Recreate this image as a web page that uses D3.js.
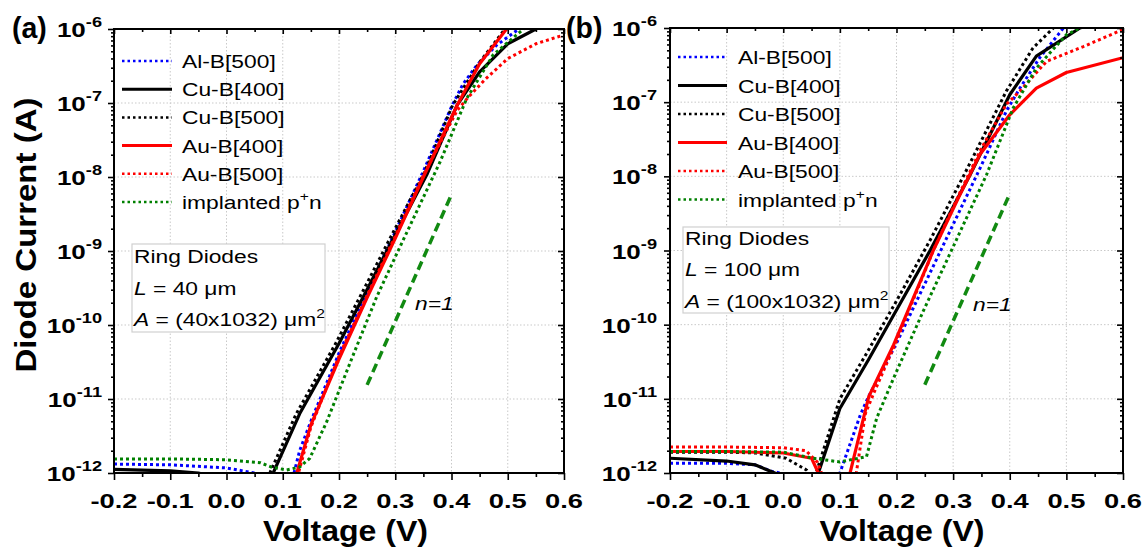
<!DOCTYPE html>
<html><head><meta charset="utf-8">
<script src="https://cdn.jsdelivr.net/npm/d3@7"></script>
<style>html,body{margin:0;padding:0;background:#fff;}svg{display:block;}</style>
</head><body>
<svg id="chart" width="1146" height="551"></svg>
<script>
// ---------- data ----------
const xTicks = [-0.2, -0.1, 0.0, 0.1, 0.2, 0.3, 0.4, 0.5, 0.6];
const xMinorTicks = [-0.15, -0.05, 0.05, 0.15, 0.25, 0.35, 0.45, 0.55];
const yTicks = [1e-12, 1e-11, 1e-10, 1e-9, 1e-8, 1e-7, 1e-6];
const yTickExp = ["-12", "-11", "-10", "-9", "-8", "-7", "-6"];
const seriesNames = ["Al-B[500]", "Cu-B[400]", "Cu-B[500]", "Au-B[400]", "Au-B[500]", "implanted p"];
const seriesColors = ["#0000ff", "#000000", "#000000", "#ff0000", "#ff0000", "#008000"];
const seriesDotted = [true, false, true, false, true, true];

// panel (a): L = 40 um  [voltage V, current A]
const aAlB500 = [[-0.2,1.32e-12],[-0.1,1.29e-12],[0.0,1.17e-12],[0.05,1.0e-12],[0.08,7.9e-13],[0.11,7.9e-13],[0.12,1.0e-12],[0.13,2.0e-12],[0.15,5.0e-12],[0.2,4.17e-11],[0.25,2.82e-10],[0.3,1.82e-9],[0.35,1.2e-8],[0.40,8.91e-8],[0.42,1.78e-7],[0.445,3.24e-7],[0.48,6.03e-7],[0.52,1.0e-6],[0.54,1.26e-6]];
const aCuB400 = [[-0.2,1.12e-12],[-0.1,1.07e-12],[-0.05,1.0e-12],[0.0,7.9e-13],[0.07,7.9e-13],[0.083,1.0e-12],[0.13,6.31e-12],[0.2,5.62e-11],[0.25,3.02e-10],[0.3,1.66e-9],[0.356,1.07e-8],[0.41,9.33e-8],[0.45,2.63e-7],[0.5,6.31e-7],[0.55,1.0e-6],[0.56,1.1e-6]];
const aCuB500 = [[0.06,5.0e-13],[0.077,1.0e-12],[0.124,6.31e-12],[0.194,5.62e-11],[0.244,3.02e-10],[0.294,1.66e-9],[0.35,1.07e-8],[0.402,9.33e-8],[0.45,3.55e-7],[0.5,1.12e-6]];
const aAuB400 = [[0.12,7.9e-13],[0.125,1.0e-12],[0.15,4.47e-12],[0.2,3.47e-11],[0.25,2.34e-10],[0.3,1.48e-9],[0.35,1.0e-8],[0.41,9.33e-8],[0.45,3.39e-7],[0.5,1.05e-6]];
const aAuB500 = [[0.115,6.3e-13],[0.128,1.0e-12],[0.15,4.17e-12],[0.2,3.8e-11],[0.25,2.51e-10],[0.3,1.58e-9],[0.35,1.05e-8],[0.41,7.94e-8],[0.43,1.2e-7],[0.46,2.09e-7],[0.5,3.98e-7],[0.55,6.31e-7],[0.6,8.32e-7]];
const aImplanted = [[-0.2,1.55e-12],[-0.1,1.55e-12],[0.0,1.51e-12],[0.06,1.38e-12],[0.08,1.2e-12],[0.107,1.1e-12],[0.13,1.2e-12],[0.148,1.58e-12],[0.178,4.9e-12],[0.225,3.89e-11],[0.267,2.4e-10],[0.308,1.12e-9],[0.38,1.62e-8],[0.427,1.15e-7],[0.474,4.47e-7],[0.528,1.0e-6],[0.54,1.1e-6]];

// panel (b): L = 100 um
const bAlB500 = [[-0.2,1.35e-12],[-0.1,1.35e-12],[-0.05,1.29e-12],[-0.02,1.05e-12],[0.03,8.9e-13],[0.09,7.9e-13],[0.1,1.0e-12],[0.136,6.03e-12],[0.15,1.05e-11],[0.2,5.62e-11],[0.25,3.55e-10],[0.3,2.24e-9],[0.35,1.41e-8],[0.394,7.59e-8],[0.418,1.55e-7],[0.453,3.98e-7],[0.5,1.12e-6]];
const bCuB400 = [[-0.2,1.58e-12],[-0.1,1.45e-12],[-0.05,1.29e-12],[-0.015,1.0e-12],[0.0,7.9e-13],[0.05,7.9e-13],[0.062,1.0e-12],[0.1,7.41e-12],[0.15,3.31e-11],[0.2,1.58e-10],[0.26,1.02e-9],[0.33,1.05e-8],[0.4,1.26e-7],[0.447,4.17e-7],[0.524,1.0e-6],[0.54,1.1e-6]];
const bCuB500 = [[-0.2,1.91e-12],[-0.1,1.91e-12],[-0.048,1.86e-12],[0.005,1.58e-12],[0.041,1.1e-12],[0.05,8.9e-13],[0.058,1.0e-12],[0.1,1.0e-11],[0.15,4.47e-11],[0.2,2.09e-10],[0.26,1.41e-9],[0.318,1.0e-8],[0.394,1.41e-7],[0.441,5.37e-7],[0.477,1.0e-6],[0.49,1.2e-6]];
const bAuB400 = [[-0.2,1.95e-12],[-0.1,1.95e-12],[0.0,1.86e-12],[0.05,1.58e-12],[0.062,1.0e-12],[0.07,6.3e-13],[0.11,6.3e-13],[0.118,1.0e-12],[0.136,3.63e-12],[0.151,1.07e-11],[0.195,5.37e-11],[0.265,1.0e-9],[0.31,5.25e-9],[0.347,1.95e-8],[0.4,6.76e-8],[0.447,1.55e-7],[0.5,2.51e-7],[0.6,3.98e-7]];
const bAuB500 = [[-0.2,2.24e-12],[-0.1,2.24e-12],[0.0,2.19e-12],[0.04,2.0e-12],[0.06,1.41e-12],[0.075,7.1e-13],[0.12,6.3e-13],[0.129,1.0e-12],[0.145,6.31e-12],[0.16,1.2e-11],[0.2,6.03e-11],[0.265,1.0e-9],[0.31,5.62e-9],[0.35,2.4e-8],[0.394,9.33e-8],[0.418,1.41e-7],[0.465,3.55e-7],[0.53,5.62e-7],[0.6,9.55e-7]];
const bImplanted = [[-0.2,1.95e-12],[-0.1,1.95e-12],[0.0,1.91e-12],[0.053,1.58e-12],[0.1,1.41e-12],[0.147,1.66e-12],[0.165,5.5e-12],[0.195,1.91e-11],[0.247,1.51e-10],[0.3,1.12e-9],[0.359,1.05e-8],[0.406,8.32e-8],[0.447,2.88e-7],[0.5,8.13e-7],[0.53,1.05e-6]];

// n = 1 reference line
const idealV = [0.25, 0.40];
const idealI = [1.55e-11, 5.8e-9];

// ---------- drawing ----------
const FONT = '"Liberation Sans", Arial, Helvetica, sans-serif';
const svg = d3.select('#chart').attr('font-family', FONT);

function txt(parent, x, y, size, opts = {}) {
  return parent.append('text')
    .attr('transform', `translate(${x},${y}) scale(${opts.sx || 1},1)`)
    .attr('text-anchor', opts.anchor || 'start')
    .attr('font-size', size)
    .attr('font-weight', opts.weight || 'normal')
    .attr('font-style', opts.style || 'normal')
    .attr('fill', '#000');
}

const panels = [
  { key: 'a', x0: 114, x1: 564, y0: 29, y1: 473, tagX: 12, yLabRight: 102,
    legX: [122, 172, 182], legY0: 61, legDy: 28.2,
    box: { x: 132, y: 244, w: 193, h: 88 }, boxTx: 134, boxTy: [263, 295, 326], Lval: '40', Aval: '(40x1032)',
    n1: [415, 310], titleX: 345.5,
    data: [aAlB500, aCuB400, aCuB500, aAuB400, aAuB500, aImplanted] },
  { key: 'b', x0: 670, x1: 1123, y0: 28, y1: 473, tagX: 566, yLabRight: 657,
    legX: [678, 727, 738], legY0: 57, legDy: 28.5,
    box: { x: 683, y: 227, w: 206, h: 86 }, boxTx: 685, boxTy: [245, 276, 308], Lval: '100', Aval: '(100x1032)',
    n1: [973, 311], titleX: 902,
    data: [bAlB500, bCuB400, bCuB500, bAuB400, bAuB500, bImplanted] }
];

panels.forEach(cfg => {
  const x = d3.scaleLinear().domain([-0.2, 0.6]).range([cfg.x0, cfg.x1]);
  const y = d3.scaleLog().domain([1e-12, 1e-6]).range([cfg.y1, cfg.y0]);
  const g = svg.append('g');

  // grid
  g.append('g').selectAll('line').data(xTicks.slice(1, -1)).join('line')
    .attr('x1', d => x(d)).attr('x2', d => x(d)).attr('y1', cfg.y0).attr('y2', cfg.y1)
    .attr('stroke', '#c9c9c9').attr('stroke-width', 1).attr('stroke-dasharray', '1.5,2');
  g.append('g').selectAll('line').data(yTicks.slice(1, -1)).join('line')
    .attr('y1', d => y(d)).attr('y2', d => y(d)).attr('x1', cfg.x0).attr('x2', cfg.x1)
    .attr('stroke', '#c9c9c9').attr('stroke-width', 1).attr('stroke-dasharray', '1.5,2');

  // info box
  g.append('rect').attr('x', cfg.box.x).attr('y', cfg.box.y).attr('width', cfg.box.w).attr('height', cfg.box.h)
    .attr('fill', '#fff').attr('stroke', '#d0d0d0').attr('stroke-width', 1.2);
  txt(g, cfg.boxTx, cfg.boxTy[0], 19, { sx: 1.2 }).text('Ring Diodes');
  const t2 = txt(g, cfg.boxTx, cfg.boxTy[1], 19, { sx: 1.2 });
  t2.append('tspan').attr('font-style', 'italic').text('L');
  t2.append('tspan').text(` = ${cfg.Lval} \u03bcm`);
  const t3 = txt(g, cfg.boxTx, cfg.boxTy[2], 19, { sx: 1.2 });
  t3.append('tspan').attr('font-style', 'italic').text('A');
  t3.append('tspan').text(` = ${cfg.Aval} \u03bcm`);
  t3.append('tspan').attr('font-size', 13).attr('dy', -8).text('2');

  // clip
  const clipId = 'clip-' + cfg.key;
  svg.append('clipPath').attr('id', clipId).append('rect')
    .attr('x', cfg.x0).attr('y', cfg.y0).attr('width', cfg.x1 - cfg.x0).attr('height', cfg.y1 - cfg.y0);

  const line = d3.line().x(d => x(d[0])).y(d => y(d[1]));
  const curves = g.append('g').attr('clip-path', `url(#${clipId})`);
  cfg.data.forEach((s, i) => {
    curves.append('path').attr('d', line(s)).attr('fill', 'none')
      .attr('stroke', seriesColors[i])
      .attr('stroke-width', seriesDotted[i] ? 3 : 3.2)
      .attr('stroke-dasharray', seriesDotted[i] ? '3,3' : null)
      .attr('stroke-linejoin', 'round');
  });
  // n=1 dashed line
  curves.append('path').attr('d', line(idealV.map((v, i) => [v, idealI[i]])))
    .attr('fill', 'none').attr('stroke', '#118a11').attr('stroke-width', 3.5).attr('stroke-dasharray', '9,5');
  txt(g, cfg.n1[0], cfg.n1[1], 19, { sx: 1.2, style: 'italic' }).text('n=1');

  // axes (ticks only)
  const styleAxis = sel => { sel.select('.domain').remove(); sel.selectAll('line').attr('stroke', '#000').attr('stroke-width', 1.6); sel.selectAll('text').remove(); };
  const yMinor = y.ticks().filter(d => !yTicks.some(t => Math.abs(Math.log10(d) - Math.log10(t)) < 1e-6));
  g.append('g').attr('transform', `translate(0,${cfg.y1})`).call(d3.axisBottom(x).tickValues(xTicks).tickSize(7).tickFormat('')).call(styleAxis);
  g.append('g').attr('transform', `translate(0,${cfg.y1})`).call(d3.axisBottom(x).tickValues(xMinorTicks).tickSize(4).tickFormat('')).call(styleAxis);
  g.append('g').attr('transform', `translate(0,${cfg.y0})`).call(d3.axisTop(x).tickValues(xTicks).tickSize(-5).tickFormat('')).call(styleAxis);
  g.append('g').attr('transform', `translate(0,${cfg.y0})`).call(d3.axisTop(x).tickValues(xMinorTicks).tickSize(-3).tickFormat('')).call(styleAxis);
  g.append('g').attr('transform', `translate(${cfg.x0},0)`).call(d3.axisLeft(y).tickValues(yTicks).tickSize(6).tickFormat('')).call(styleAxis);
  g.append('g').attr('transform', `translate(${cfg.x0},0)`).call(d3.axisLeft(y).tickValues(yMinor).tickSize(3).tickFormat('')).call(styleAxis);
  g.append('g').attr('transform', `translate(${cfg.x1},0)`).call(d3.axisRight(y).tickValues(yTicks).tickSize(-6).tickFormat('')).call(styleAxis);
  g.append('g').attr('transform', `translate(${cfg.x1},0)`).call(d3.axisRight(y).tickValues(yMinor).tickSize(-3).tickFormat('')).call(styleAxis);

  // frame
  g.append('rect').attr('x', cfg.x0).attr('y', cfg.y0).attr('width', cfg.x1 - cfg.x0).attr('height', cfg.y1 - cfg.y0)
    .attr('fill', 'none').attr('stroke', '#000').attr('stroke-width', 2);

  // tick labels
  xTicks.forEach(v => {
    txt(g, x(v), 508, 21, { sx: 1.3, anchor: 'middle', weight: 'bold' }).text(v.toFixed(1));
  });
  yTicks.forEach((v, i) => {
    const t = txt(g, cfg.yLabRight, y(v) + 8, 20, { sx: 1.3, anchor: 'end', weight: 'bold' });
    t.append('tspan').text('10');
    t.append('tspan').attr('font-size', 14).attr('dy', -10).text(yTickExp[i]);
  });

  // legend
  seriesNames.forEach((name, i) => {
    const ly = cfg.legY0 + i * cfg.legDy;
    g.append('line').attr('x1', cfg.legX[0]).attr('x2', cfg.legX[1]).attr('y1', ly).attr('y2', ly)
      .attr('stroke', seriesColors[i]).attr('stroke-width', seriesDotted[i] ? 2.5 : 3)
      .attr('stroke-dasharray', seriesDotted[i] ? '2.5,3' : null);
    const t = txt(g, cfg.legX[2], ly + 7, 19, { sx: 1.2 });
    t.append('tspan').text(name);
    if (i === 5) {
      t.append('tspan').attr('font-size', 13).attr('dy', -8).text('+');
      t.append('tspan').attr('dy', 8).text('n');
    }
  });

  // panel tag
  txt(g, cfg.tagX, 38, 30, { weight: 'bold', sx: 0.95 }).text(`(${cfg.key})`);

  // x title
  g.append('text').attr('x', cfg.titleX).attr('y', 541).attr('text-anchor', 'middle')
    .attr('font-size', 29).attr('font-weight', 'bold')
    .attr('textLength', 165).attr('lengthAdjust', 'spacingAndGlyphs').text('Voltage (V)');
});

// y title
svg.append('text').attr('transform', 'translate(36,235) rotate(-90)').attr('text-anchor', 'middle')
  .attr('font-size', 30).attr('font-weight', 'bold')
  .attr('textLength', 275).attr('lengthAdjust', 'spacingAndGlyphs').text('Diode Current (A)');
</script>
</body></html>
